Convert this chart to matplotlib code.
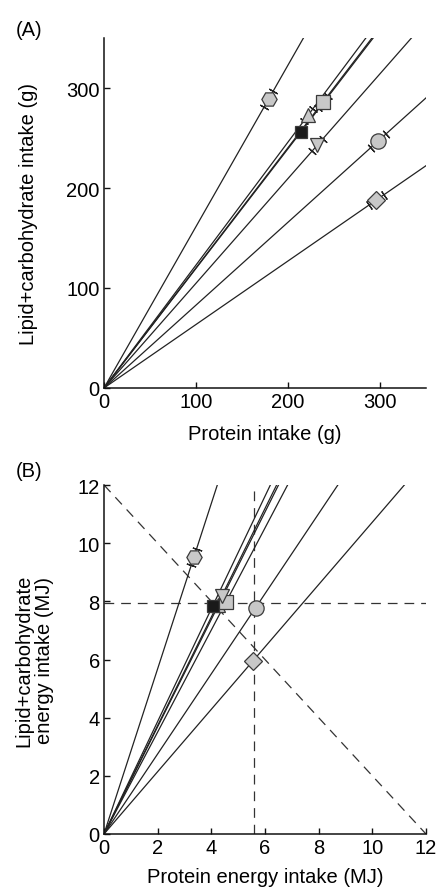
import numpy as np
import matplotlib
matplotlib.use('Agg')
import matplotlib.pyplot as plt

plt.rcParams['font.family'] = ['Liberation Sans', 'DejaVu Sans']
plt.rcParams['lines.scale_dashes'] = False

# ---------------- data ----------------
marker_shapes = ['H', '^', 's', 's', 'v', 'o', 'D']
marker_faces = ['#c8c8c8', '#c8c8c8', '#1a1a1a', '#c8c8c8', '#c8c8c8', '#c8c8c8', '#c8c8c8']
marker_sizes = [11, 10, 9, 9.5, 10, 11, 9.5]

# Panel A: intakes (g)
a_protein = [179, 222, 214, 238, 232, 298, 296]
a_lipcarb = [289, 273, 256, 286, 243, 247, 188]
a_err = [5, 5, 0, 5, 6, 8, 8]          # error along protein axis
a_ticks = [0, 100, 200, 300]

# Panel B: energy intakes (MJ)
b_protein = [3.35, 4.26, 4.05, 4.55, 4.38, 5.65, 5.55]
b_lipcarb = [9.52, 7.86, 7.84, 7.98, 8.17, 7.78, 5.95]
b_err = [0.1, 0, 0, 0, 0, 0, 0]
b_target_protein = 5.59
b_target_lipcarb = 7.93
b_total_energy = 12
b_xticks = [0, 2, 4, 6, 8, 10, 12]
b_yticks = [0, 2, 4, 6, 8, 10, 12]

LINE = '#222222'
EDGE = '#3a3a3a'
FS = 14.5

fig = plt.figure(figsize=(4.4, 8.95), dpi=100)
W, H = 440.0, 895.0
axA = fig.add_axes([104 / W, 1 - 389 / H, 322 / W, 350 / H])
axB = fig.add_axes([104 / W, 1 - 835 / H, 322 / W, 349 / H])


def style(ax):
    for s in ['top', 'right']:
        ax.spines[s].set_visible(False)
    for s in ['left', 'bottom']:
        ax.spines[s].set_linewidth(1.1)
        ax.spines[s].set_color('#111111')
    ax.tick_params(direction='in', length=4, width=1.0, labelsize=FS, color='#111111')
    ax.tick_params(axis='y', pad=3)
    ax.tick_params(axis='x', pad=3)


def draw_rays(ax, xs, ys, errs, xmax):
    for x, y, e, m, fc, ms in zip(xs, ys, errs, marker_shapes, marker_faces, marker_sizes):
        slope = y / x
        xx = np.array([0, xmax * 1.5])
        ax.plot(xx, xx * slope, color=LINE, lw=0.9, zorder=2, solid_capstyle='butt')
        if e > 0:
            p0 = ax.transData.transform((0, 0))
            p1 = ax.transData.transform((1, slope))
            ang = np.degrees(np.arctan2(p1[1] - p0[1], p1[0] - p0[0]))
            for sgn in (-1, 1):
                ax.plot([x + sgn * e], [y + sgn * e * slope], ls='none',
                        marker=(2, 2, ang), ms=7, mew=0.9, mec=LINE, zorder=3)
        ax.plot([x], [y], ls='none', marker=m, ms=ms, mfc=fc, mec=EDGE, mew=0.9, zorder=4)


# ---------------- Panel A ----------------
axA.set_xlim(0, 350)
axA.set_ylim(0, 350)
style(axA)
axA.set_xticks(a_ticks)
axA.set_yticks(a_ticks)
draw_rays(axA, a_protein, a_lipcarb, a_err, 350)
axA.set_xlabel('Protein intake (g)', fontsize=FS, labelpad=9)
axA.set_ylabel('Lipid+carbohydrate intake (g)', fontsize=FS)
axA.yaxis.set_label_coords((38 - 104) / 322, 0.5)

# ---------------- Panel B ----------------
axB.set_xlim(0, 12)
axB.set_ylim(0, 12)
style(axB)
axB.set_xticks(b_xticks)
axB.set_yticks(b_yticks)
dash = (0, (7, 5))
axB.plot([b_target_protein, b_target_protein], [0, b_total_energy], color='#333333', lw=0.9, ls=dash, zorder=1)
axB.plot([0, b_total_energy], [b_target_lipcarb, b_target_lipcarb], color='#333333', lw=0.9, ls=dash, zorder=1)
axB.plot([0, b_total_energy], [b_total_energy, 0], color='#333333', lw=0.9, ls=dash, zorder=1)
draw_rays(axB, b_protein, b_lipcarb, b_err, 12)
axB.set_xlabel('Protein energy intake (MJ)', fontsize=FS, labelpad=7)
axB.set_ylabel('Lipid+carbohydrate\nenergy intake (MJ)', fontsize=FS, linespacing=1.1)
axB.yaxis.set_label_coords((54 - 104) / 322, 0.5)

fig.text(16 / W, 1 - 30 / H, '(A)', fontsize=FS, ha='left', va='center')
fig.text(16 / W, 1 - 472 / H, '(B)', fontsize=FS, ha='left', va='center')

fig.savefig('out.png', dpi=100)
